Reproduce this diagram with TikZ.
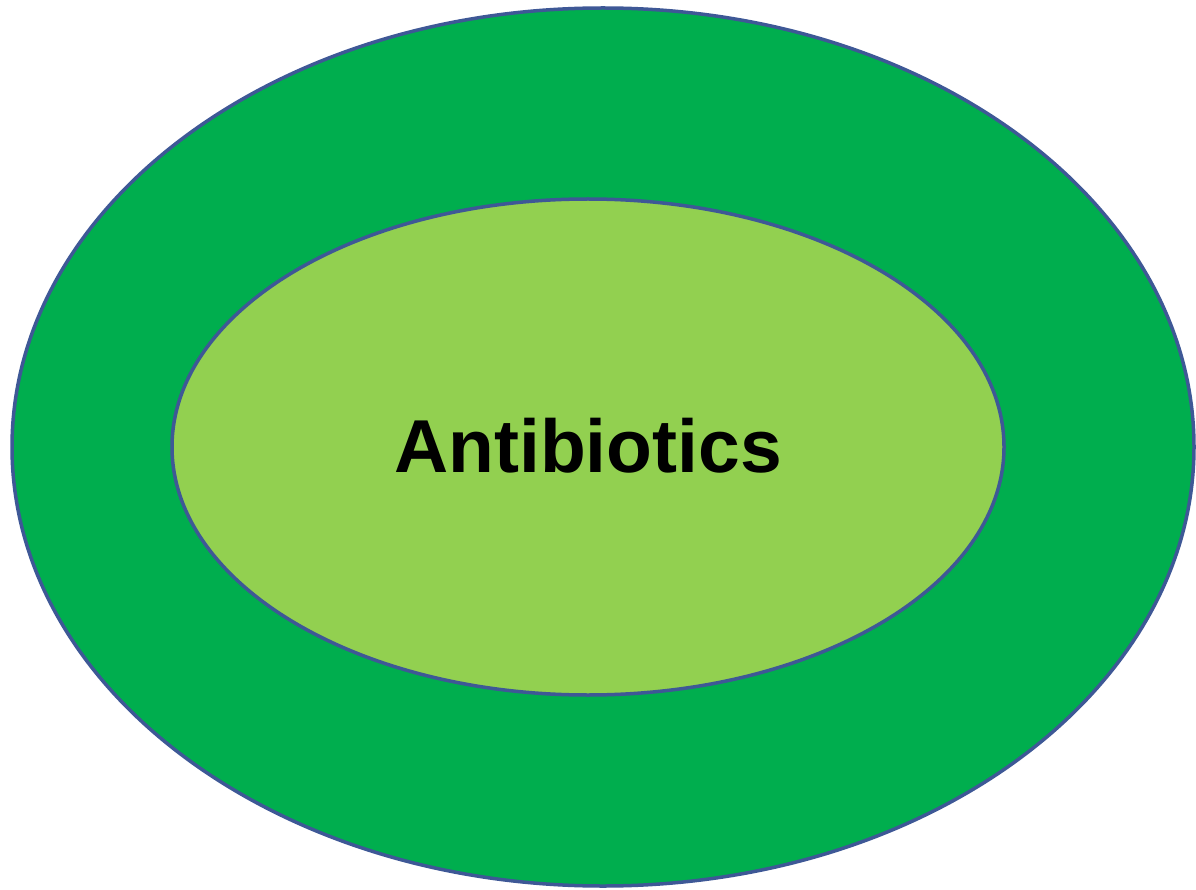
\documentclass[tikz,border=0pt]{standalone}
\usepackage{fontspec}
\setmainfont{Liberation Sans}
\definecolor{outerg}{RGB}{0,174,78}
\definecolor{innerg}{RGB}{146,208,80}
\definecolor{rim}{RGB}{62,88,150}
\begin{document}
\begin{tikzpicture}[x=1pt,y=-1pt,
  ring/.style={draw=rim,line width=3.5pt}]
\useasboundingbox (0,0) rectangle (1196,890);
\draw[ring,fill=outerg] (603,447) ellipse [x radius=591,y radius=439];
\draw[ring,fill=innerg] (588,447) ellipse [x radius=416,y radius=248];
\node (t) at (588,446) {\fontsize{75}{80}\selectfont\bfseries Antibiotics};
\end{tikzpicture}
\end{document}
